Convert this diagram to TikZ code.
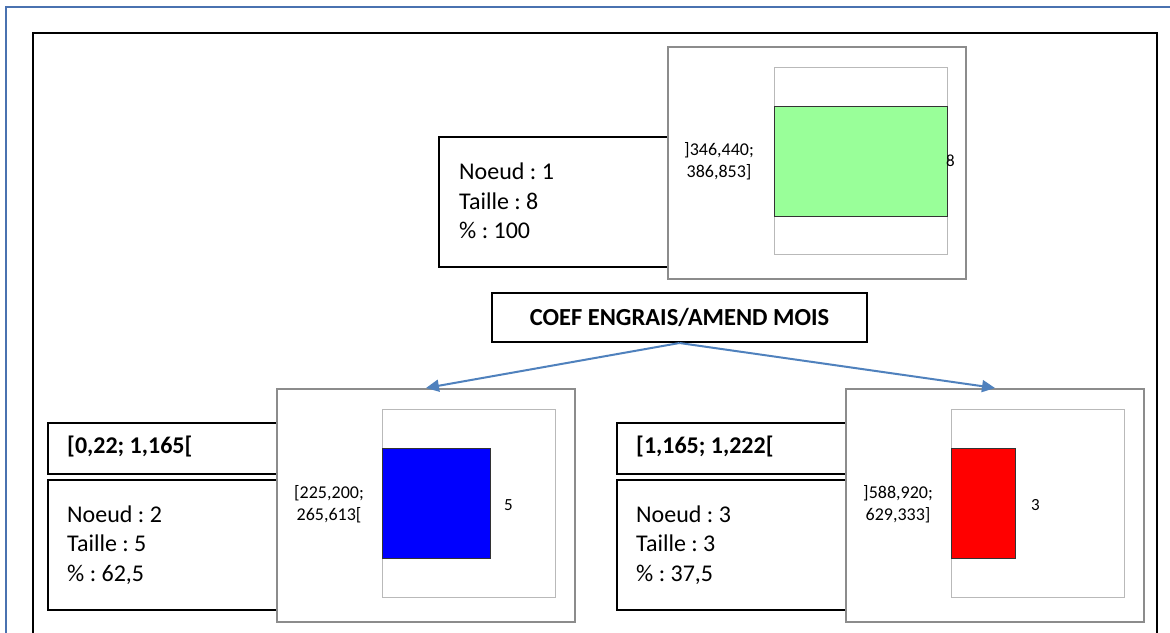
\documentclass[tikz,border=0pt]{standalone}
\usepackage{fontspec}
\setmainfont{Carlito}
\usetikzlibrary{arrows.meta}
\definecolor{frameblue}{RGB}{74,114,176}
\definecolor{arrowblue}{RGB}{79,129,189}
\definecolor{boxgray}{RGB}{140,140,140}
\definecolor{framegray}{RGB}{185,185,185}
\definecolor{bargreen}{RGB}{153,255,153}
\begin{document}
\frenchspacing
\begin{tikzpicture}[x=1pt,y=-1pt,
  blackbox/.style={draw=black, line width=2pt, fill=white, inner sep=0pt, anchor=north west},
  chartbox/.style={draw=boxgray, line width=2pt, fill=white, inner sep=0pt, anchor=north west},
  plotframe/.style={draw=framegray, line width=1.2pt, inner sep=0pt, anchor=north west},
  bar/.style={draw=black!80, line width=1pt, inner sep=0pt, anchor=north west},
  infotext/.style={font=\fontsize{24}{29.5}\selectfont, align=left, anchor=west, inner sep=0pt},
  headtext/.style={font=\fontsize{24}{29}\selectfont\bfseries, anchor=west, inner sep=0pt},
  rangetext/.style={font=\fontsize{18}{22.5}\selectfont, align=center, inner sep=0pt},
  valtext/.style={font=\fontsize{17}{20}\selectfont, anchor=west, inner sep=0pt},
  link/.style={draw=arrowblue, line width=2pt, -{Triangle[length=13pt,width=12pt]}}
]
\clip (0,0) rectangle (1170,632);
\fill[white] (0,0) rectangle (1170,632);
\draw[frameblue, line width=2pt] (5.7,700) -- (5.7,7) -- (1200,7);
\draw[black, line width=2.5pt] (33,33) rectangle (1157,700);

% node 1
\node[blackbox, minimum width=262pt, minimum height=130pt] (t1) at (438,136) {};
\node[infotext] (t1txt) at (459,201) {Noeud : 1\\Taille : 8\\\% : 100};
\node[chartbox, minimum width=298pt, minimum height=232pt] (c1) at (667,46) {};
\node[plotframe, minimum width=173pt, minimum height=187pt] (f1) at (774,67) {};
\node[bar, fill=bargreen, minimum width=173pt, minimum height=110pt] (b1) at (774,106) {};
\node[rangetext] (r1) at (719,161) {]346,440;\\386,853]};
\node[valtext] (v1) at (946,161) {8};

% split variable
\node[draw=black, line width=2pt, fill=white, minimum width=375pt, minimum height=49pt, inner sep=0pt,
      font=\fontsize{24.5}{28}\selectfont\bfseries] (coef) at (679.5,317.5) {COEF ENGRAIS/AMEND MOIS};

% node 2
\node[blackbox, minimum width=260pt, minimum height=51pt] (h2) at (47,422) {};
\node[headtext] (h2txt) at (67,447) {[0,22; 1,165[};
\node[blackbox, minimum width=260pt, minimum height=130pt] (t2) at (47,479) {};
\node[infotext] (t2txt) at (67,545) {Noeud : 2\\Taille : 5\\\% : 62,5};
\node[chartbox, minimum width=298pt, minimum height=233pt] (c2) at (276,388) {};
\node[plotframe, minimum width=173.5pt, minimum height=188pt] (f2) at (381.5,409) {};
\node[bar, fill=blue, minimum width=108.5pt, minimum height=110pt] (b2) at (381.5,448) {};
\node[rangetext] (r2) at (329,504) {[225,200;\\265,613[};
\node[valtext] (v2) at (504,505) {5};

% node 3
\node[blackbox, minimum width=260pt, minimum height=51pt] (h3) at (616,422) {};
\node[headtext] (h3txt) at (636,447) {[1,165; 1,222[};
\node[blackbox, minimum width=260pt, minimum height=130pt] (t3) at (616,479) {};
\node[infotext] (t3txt) at (636,545) {Noeud : 3\\Taille : 3\\\% : 37,5};
\node[chartbox, minimum width=298pt, minimum height=233pt] (c3) at (845,388) {};
\node[plotframe, minimum width=173pt, minimum height=188pt] (f3) at (951,409) {};
\node[bar, fill=red, minimum width=64pt, minimum height=110pt] (b3) at (951,448) {};
\node[rangetext] (r3) at (898,504) {]588,920;\\629,333]};
\node[valtext] (v3) at (1031,505) {3};

% connectors
\draw[link] (coef.south) -- (c2.north);
\draw[link] (coef.south) -- (c3.north);
\end{tikzpicture}
\end{document}
